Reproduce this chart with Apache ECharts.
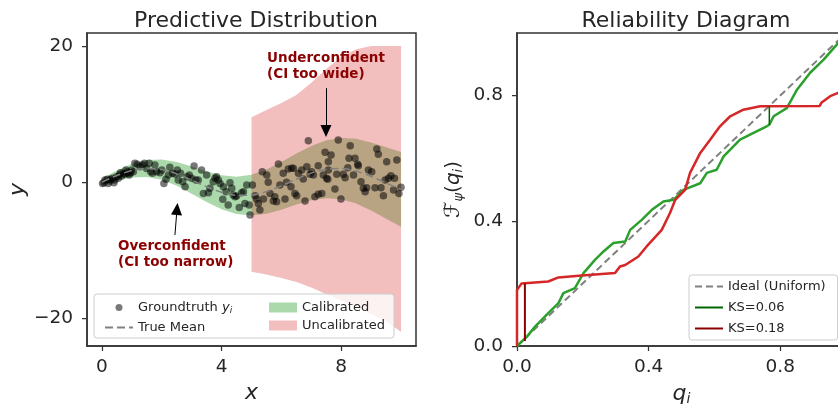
<!DOCTYPE html>
<html>
<head>
<meta charset="utf-8">
<script src="https://cdn.jsdelivr.net/npm/echarts@6/dist/echarts.min.js"></script>
<style>
  html, body { margin: 0; padding: 0; background: #fff; }
  #chart { width: 838px; height: 404px; }
</style>
</head>
<body>
<div id="chart"></div>
<script>
// ---- left panel: predictive distribution ----
const bandX = [0, 0.5, 1, 1.5, 2, 2.5, 3, 3.5, 4, 4.5, 5, 5.5, 6, 6.5, 7, 7.5, 8, 8.5, 9, 9.5, 10]
const meanY = [0, 0.96, 1.68, 1.99, 1.82, 1.2, 0.28, -0.7, -1.51, -1.96, -1.92, -1.41, -0.56, 0.43, 1.31, 1.88, 1.98, 1.6, 0.82, -0.15, -1.09]
const calUpper = [0.5, 1.71, 2.68, 3.24, 3.32, 2.95, 2.28, 1.55, 0.99, 0.79, 1.08, 1.84, 2.94, 4.18, 5.31, 6.13, 6.48, 6.35, 5.82, 5.1, 4.41]
const calLower = [-0.5, 0.21, 0.68, 0.74, 0.32, -0.55, -1.72, -2.95, -4.01, -4.71, -4.92, -4.66, -4.06, -3.32, -2.69, -2.37, -2.52, -3.15, -4.18, -5.4, -6.59]

const uncalX = [5, 5.5, 6, 6.5, 7, 7.5, 8, 8.5, 9, 9.5, 10]
const uncalUpper = [9.5, 10.6, 11.6, 12.8, 14.6, 16.6, 18.4, 19.5, 20.0, 20.0, 20.0]
const uncalLower = [-13.2, -13.6, -14.1, -14.7, -15.5, -16.5, -17.4, -18.4, -19.4, -20.5, -22.0]

const gtX = [
  0.02, 0.07, 0.10, 0.18, 0.21, 0.27, 0.29, 0.36, 0.40, 0.43, 0.49, 0.55, 0.58, 0.62, 0.66, 0.71, 0.77, 0.80, 0.85, 0.88,
  0.91, 0.96, 0.99, 1.05, 1.10, 1.18, 1.27, 1.36, 1.42, 1.49, 1.58, 1.63, 1.69, 1.77, 1.83, 1.94, 2.00, 2.07, 2.14, 2.22,
  2.27, 2.36, 2.44, 2.52, 2.55, 2.63, 2.70, 2.78, 2.85, 2.92, 3.00, 3.08, 3.14, 3.22,
  3.33, 3.50, 3.39, 3.56, 3.61, 3.72, 3.78, 3.83, 3.89, 3.95, 4.06, 4.15, 4.04, 4.22, 4.28, 4.34, 4.39, 4.45, 4.50, 4.59,
  4.67, 4.73, 4.78,
  6.90, 5.90, 5.36, 5.51, 5.56, 5.03, 4.84, 4.92, 4.95, 5.12, 5.17, 5.23, 5.28, 5.40, 5.62, 5.73, 5.78, 5.84, 5.95, 6.06,
  6.12, 6.17, 6.23, 6.34, 6.32, 6.40, 6.45, 6.51, 6.57, 6.68, 6.73, 6.79, 6.85, 6.96, 7.01, 7.07, 7.12, 7.23, 7.23, 7.35,
  7.40, 7.46, 7.51, 7.57,
  7.90, 8.30, 9.19, 9.24, 7.66, 7.57, 8.26, 8.46, 8.55, 9.86, 9.52, 7.85, 8.07, 8.13, 8.22, 8.41, 8.57, 8.91, 9.02, 8.66,
  8.74, 8.80, 8.85, 9.13, 9.33, 9.47, 9.58, 9.66, 9.78, 9.75, 9.93, 10.0, 9.41, 7.79, 7.55, 7.99
]
const gtY = [
  -0.2, -0.1, 0.29, 0.39, -0.2, 0.15, 0.39, 0.54, -0.1, 0.29, 0.78, 0.54, 1.03, 1.37, 0.88, 1.27, 1.18, 1.76, 1.52, 1.27,
  1.03, 1.37, 1.76, 1.52, 2.75, 2.6, 2.25, 2.5, 2.75, 2.0, 2.75, 1.52, 1.27, 2.5, 1.52, 1.37, 1.76, -0.2, 0.39, 1.03,
  2.16, 1.27, 1.18, 1.76, 0.29, 1.27, 0.05, -0.69, 0.78, 1.03, 0.54, 2.35, 0.29, 0.29,
  1.76, 1.03, -1.67, -1.57, -0.93, 0.05, 0.54, 0.78, 0.29, -0.2, -0.69, -1.42, -2.55, -3.38, -0.1, -0.93, -1.91, -2.16, -2.06, -3.73,
  -1.57, -1.42, -3.14,
  6.08, 2.65, 1.52, 1.03, -0.05, -0.44, -0.44, -3.38, -4.85, -2.01, -2.5, -3.14, -4.12, -2.5, -1.67, -2.79, -2.16, -2.89, -0.44, 1.27,
  -2.5, -0.05, 1.91, 2.01, -0.69, 2.01, -1.67, -2.01, 1.27, 1.76, 0.44, -2.79, 2.25, 1.13, 1.52, 1.03, -2.16, 2.4, -1.81, -1.67,
  1.03, 4.36, 0.54, 1.76,
  6.18, 5.34, 4.85, 4.07, 3.97, 2.99, 3.48, 3.48, 2.6, 3.24, 2.99, 1.13, 1.13, 0.64, 2.11, 1.03, 2.4, 1.76, 1.52, 0.05,
  -0.93, -1.42, -0.83, -0.83, -0.83, 0.29, 0.54, 0.93, 0.54, -1.18, -1.67, -0.78, -2.01, -1.03, 0.39, -2.5
]
const leftXTicks = [0, 4, 8]
const leftYTicks = [-20, 0, 20]

// ---- right panel: reliability diagram ----
const idealQ = [0, 1]
const idealF = [0, 1]
const calQ = [0, 0.03, 0.055, 0.095, 0.126, 0.141, 0.176, 0.202, 0.237, 0.263, 0.293, 0.329, 0.344, 0.379, 0.41, 0.445, 0.476,
  0.506, 0.557, 0.577, 0.607, 0.628, 0.678, 0.719, 0.759, 0.767, 0.78, 0.82, 0.851, 0.891, 0.932, 0.972, 1.0]
const calF = [0, 0.03, 0.062, 0.105, 0.137, 0.169, 0.185, 0.233, 0.275, 0.302, 0.329, 0.334, 0.371, 0.403, 0.435, 0.462, 0.467,
  0.499, 0.52, 0.553, 0.563, 0.606, 0.659, 0.681, 0.702, 0.707, 0.734, 0.76, 0.819, 0.873, 0.915, 0.963, 1.0]
const uncalQ = [0, 0, 0.005, 0.014, 0.095, 0.126, 0.197, 0.298, 0.313, 0.329, 0.369, 0.394, 0.44, 0.465, 0.481, 0.511, 0.526,
  0.557, 0.587, 0.617, 0.648, 0.688, 0.739, 0.92, 0.925, 0.952, 0.976, 1.0]
const uncalF = [0, 0.179, 0.185, 0.2, 0.206, 0.219, 0.225, 0.233, 0.254, 0.259, 0.286, 0.318, 0.371, 0.425, 0.467, 0.499, 0.553,
  0.617, 0.659, 0.702, 0.734, 0.755, 0.766, 0.767, 0.777, 0.798, 0.809, 0.82]
const ksCalQ = [0.767, 0.767]
const ksCalF = [0.707, 0.765]
const ksUncalQ = [0.024, 0.024]
const ksUncalF = [0.016, 0.2]
const rightTicks = [0, 0.4, 0.8]

const FONT = 'DejaVu Sans'
const INK = '#262626'
const SPINE = '#333333'

const zip = (a, b) => a.map((v, i) => [v, b[i]])

function band(name, xs, up, lo, fill) {
  return {
    name: name,
    type: 'custom',
    xAxisIndex: 0,
    yAxisIndex: 0,
    silent: true,
    itemStyle: { color: fill },
    data: [0],
    renderItem: function(params, api) {
      const pts = []
      xs.forEach((x, i) => pts.push(api.coord([x, up[i]])))
      for (let i = xs.length - 1; i >= 0; i--) pts.push(api.coord([xs[i], lo[i]]))
      return { type: 'polygon', shape: { points: pts }, style: { fill: fill } }
    }
  }
}

function axisBase(ticks, fmt, margin) {
  return {
    type: 'value',
    splitLine: { show: false },
    axisLine: { show: true, onZero: false, lineStyle: { color: SPINE, width: 1.5 } },
    axisTick: { show: true, length: 5, customValues: ticks, lineStyle: { color: SPINE, width: 1.25 } },
    axisLabel: { customValues: ticks, color: INK, fontSize: 18.5, fontFamily: FONT, formatter: fmt, margin: margin }
  }
}
const minus = v => String(v).replace('-', '\u2212')
const oneDec = v => v.toFixed(1)

const chart = echarts.init(document.getElementById('chart'))
const option = {
  animation: false,
  textStyle: { fontFamily: FONT },
  title: [
    { text: 'Predictive Distribution', left: 251, top: 5, textAlign: 'center',
      textStyle: { fontSize: 22, fontWeight: 'normal', color: INK, fontFamily: FONT } },
    { text: 'Reliability Diagram', left: 681, top: 5, textAlign: 'center',
      textStyle: { fontSize: 22, fontWeight: 'normal', color: INK, fontFamily: FONT } }
  ],
  grid: [
    { left: 87, top: 33, width: 329, height: 313, show: true, borderColor: SPINE, borderWidth: 1.5, outerBoundsMode: 'none' },
    { left: 517, top: 33, width: 329, height: 313, show: true, borderColor: SPINE, borderWidth: 1.5, outerBoundsMode: 'none' }
  ],
  xAxis: [
    Object.assign(axisBase(leftXTicks, minus, 12), {
      gridIndex: 0, min: -0.5, max: 10.5,
      name: 'x', nameLocation: 'middle', nameGap: 36,
      nameTextStyle: { fontSize: 22, fontStyle: 'italic', color: INK, fontFamily: FONT }
    }),
    Object.assign(axisBase(rightTicks, oneDec, 12), {
      gridIndex: 1, min: 0, max: 1,
      name: '{q|q}{s|i}', nameLocation: 'middle', nameGap: 36,
      nameTextStyle: { fontSize: 22, color: INK, fontFamily: FONT,
        rich: { q: { fontSize: 22, fontStyle: 'italic', color: INK }, s: { fontSize: 14, fontStyle: 'italic', color: INK, padding: [10, 0, 0, 0] } } }
    })
  ],
  yAxis: [
    Object.assign(axisBase(leftYTicks, minus, 14), {
      gridIndex: 0, min: -24.1, max: 21.9,
      name: 'y', nameLocation: 'middle', nameGap: 58, nameRotate: 90,
      nameTextStyle: { fontSize: 22, fontStyle: 'italic', color: INK, fontFamily: FONT }
    }),
    Object.assign(axisBase(rightTicks, oneDec, 14), {
      gridIndex: 1, min: 0, max: 1,
      name: '{f|\u2131}{s|\u03c8}{p|(}{q|q}{s|i}{p|)}', nameLocation: 'middle', nameGap: 52, nameRotate: 90,
      nameTextStyle: { fontSize: 20, color: INK, fontFamily: FONT,
        rich: {
          f: { fontSize: 21, fontStyle: 'italic', color: INK },
          p: { fontSize: 20, color: INK },
          q: { fontSize: 20, fontStyle: 'italic', color: INK },
          s: { fontSize: 13, fontStyle: 'italic', color: INK, padding: [9, 0, 0, 0] }
        } }
    })
  ],
  legend: [
    { left: 99, top: 296, orient: 'vertical', itemWidth: 28, itemHeight: 7, itemGap: 6, z: 11,
      data: [{ name: 'Groundtruth', icon: 'circle' }, { name: 'True Mean', itemStyle: { opacity: 0 } }],
      formatter: n => n === 'Groundtruth' ? '{a|Groundtruth }{y|y}{s|i}' : n,
      textStyle: { fontSize: 13, color: INK, fontFamily: FONT,
        rich: { a: { fontSize: 13, color: INK }, y: { fontSize: 13, fontStyle: 'italic', color: INK },
          s: { fontSize: 9, fontStyle: 'italic', color: INK, padding: [6, 0, 0, 0] } } } },
    { left: 264, top: 296, orient: 'vertical', itemWidth: 28, itemHeight: 10, itemGap: 5, z: 11,
      data: [
        { name: 'Calibrated', icon: 'rect', itemStyle: { color: '#abd9ab' } },
        { name: 'Uncalibrated', icon: 'rect', itemStyle: { color: '#f3bebe' } }
      ],
      textStyle: { fontSize: 13, color: INK, fontFamily: FONT } },
    { left: 689, top: 275, orient: 'vertical', itemWidth: 28, itemHeight: 10, itemGap: 8,
      backgroundColor: 'rgba(255,255,255,0.85)', borderColor: '#cccccc', borderWidth: 1, borderRadius: 3,
      padding: [5, 12, 5, 5],
      data: [
        { name: 'Ideal (Uniform)', itemStyle: { opacity: 0 } },
        { name: 'KS=0.06', itemStyle: { opacity: 0 } },
        { name: 'KS=0.18', itemStyle: { opacity: 0 } }
      ],
      textStyle: { fontSize: 13, color: INK, fontFamily: FONT } }
  ],
  series: [
    band('Calibrated', bandX, calUpper, calLower, 'rgba(44,160,44,0.4)'),
    band('Uncalibrated', uncalX, uncalUpper, uncalLower, 'rgba(214,39,40,0.3)'),
    {
      name: 'True Mean', type: 'line', xAxisIndex: 0, yAxisIndex: 0, data: zip(bandX, meanY),
      symbol: 'none', smooth: 0.3, silent: true,
      lineStyle: { color: '#808080', width: 1.5, type: [8, 4] }, itemStyle: { color: '#808080' },
      markLine: {
        silent: true, symbol: ['none', 'triangle'], symbolSize: [11, 12],
        label: { show: false }, lineStyle: { color: '#000', width: 1, type: 'solid' },
        data: [
          [{ coord: [7.49, 13.8] }, { coord: [7.49, 7.5] }],
          [{ coord: [2.44, -7.8] }, { coord: [2.51, -3.97] }]
        ]
      }
    },
    {
      name: 'Groundtruth', type: 'scatter', xAxisIndex: 0, yAxisIndex: 0, data: zip(gtX, gtY),
      symbolSize: 7.5, silent: true, itemStyle: { color: 'rgba(0,0,0,0.66)' }
    },
    {
      name: 'Ideal (Uniform)', type: 'line', xAxisIndex: 1, yAxisIndex: 1, data: zip(idealQ, idealF),
      symbol: 'none', silent: true, lineStyle: { color: '#808080', width: 2, type: [7, 4] }, itemStyle: { color: '#808080' }
    },
    {
      name: 'calibrated-ecdf', type: 'line', xAxisIndex: 1, yAxisIndex: 1, data: zip(calQ, calF),
      symbol: 'none', silent: true, lineStyle: { color: '#2ca02c', width: 2.5 }
    },
    {
      name: 'uncalibrated-ecdf', type: 'line', xAxisIndex: 1, yAxisIndex: 1, data: zip(uncalQ, uncalF),
      symbol: 'none', silent: true, lineStyle: { color: '#d62728', width: 2.5 }
    },
    {
      name: 'KS=0.06', type: 'line', xAxisIndex: 1, yAxisIndex: 1, data: zip(ksCalQ, ksCalF),
      symbol: 'none', silent: true, lineStyle: { color: '#006400', width: 1.5 }, itemStyle: { color: '#006400' }
    },
    {
      name: 'KS=0.18', type: 'line', xAxisIndex: 1, yAxisIndex: 1, data: zip(ksUncalQ, ksUncalF),
      symbol: 'none', silent: true, lineStyle: { color: '#8b0000', width: 2 }, itemStyle: { color: '#8b0000' }
    }
  ]
}
chart.setOption(option)

// annotation text + legend frame, anchored in data space of the left grid
const under = chart.convertToPixel({ gridIndex: 0 }, [5.52, 19.26])
const over = chart.convertToPixel({ gridIndex: 0 }, [0.535, -8.24])
const noteStyle = { fill: '#8b0000', fontSize: 13.5, fontWeight: 'bold', fontFamily: FONT, lineHeight: 16 }
chart.setOption({
  graphic: [
    { type: 'rect', z: 10, shape: { x: 94, y: 294, width: 300, height: 44, r: 3 },
      style: { fill: 'rgba(255,255,255,0.8)', stroke: '#cccccc', lineWidth: 1 } },
    { type: 'text', z: 12, x: under[0], y: under[1],
      style: Object.assign({ text: 'Underconfident\n(CI too wide)' }, noteStyle) },
    { type: 'text', z: 12, x: over[0], y: over[1],
      style: Object.assign({ text: 'Overconfident\n(CI too narrow)' }, noteStyle) }
  ]
})
</script>
</body>
</html>
